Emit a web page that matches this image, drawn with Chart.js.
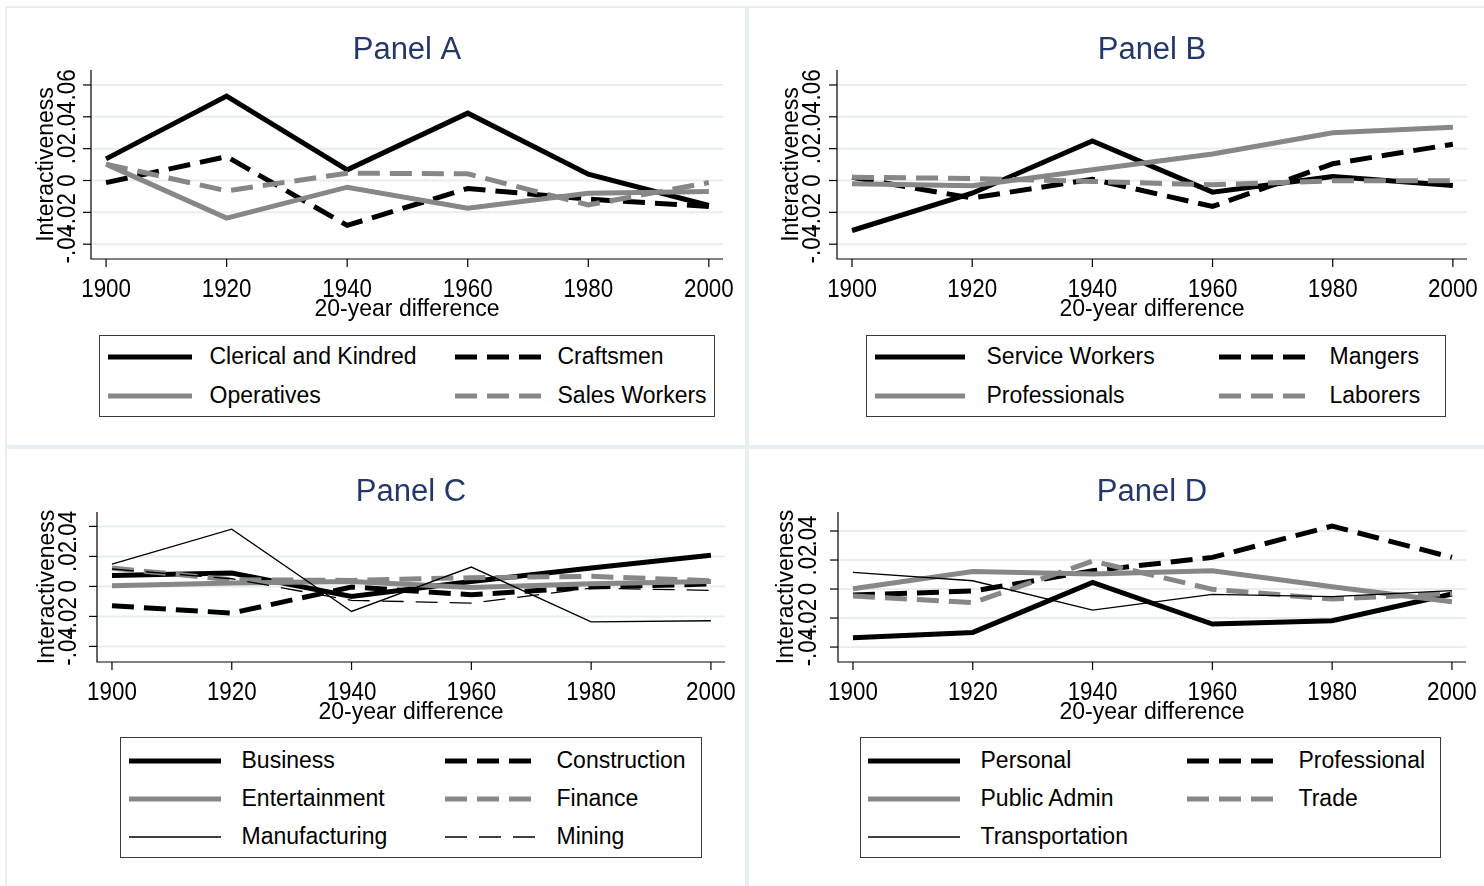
<!DOCTYPE html>
<html>
<head>
<meta charset="utf-8">
<script src="https://cdn.jsdelivr.net/npm/chart.js@4.4.1/dist/chart.umd.min.js"></script>
<style>
  body { margin: 0; background: #fff; }
  #page { position: relative; width: 1484px; height: 886px; overflow: hidden; font-family: "Liberation Sans", Arial, sans-serif; }
  .cell { position: absolute; border: 2px solid #e8eff0; box-sizing: border-box; }
  canvas { position: absolute; }
  .legend { position: absolute; border: 1.5px solid #3a3a3a; box-sizing: border-box; background: #fff; }
  .legend svg { position: absolute; overflow: visible; }
  .legend span { position: absolute; font-size: 23px; line-height: 23px; color: #000; white-space: nowrap; }
</style>
</head>
<body>
<div id="page"></div>
<script>
// x axis
const years = [1900, 1920, 1940, 1960, 1980, 2000];
const xTickLabels = ['1900', '1920', '1940', '1960', '1980', '2000'];

// y axis ticks
const yTicksAB = [-0.04, -0.02, 0, 0.02, 0.04, 0.06];
const yLabelsAB = ['-.04', '-.02', '0', '.02', '.04', '.06'];
const yTicksCD = [-0.04, -0.02, 0, 0.02, 0.04];
const yLabelsCD = ['-.04', '-.02', '0', '.02', '.04'];

// Panel A
const clerical     = [0.0136, 0.0530, 0.0067, 0.0423, 0.0040, -0.0157];
const craftsmen    = [-0.0013, 0.0150, -0.0282, -0.0050, -0.0117, -0.0163];
const operatives   = [0.0103, -0.0236, -0.0042, -0.0174, -0.0080, -0.0069];
const salesWorkers = [0.0103, -0.0065, 0.0046, 0.0042, -0.0153, -0.0013];

// Panel B
const serviceWorkers = [-0.0314, -0.0080, 0.0249, -0.0073, 0.0025, -0.0031];
const mangers        = [0.0020, -0.0110, 0.0008, -0.0163, 0.0105, 0.0228];
const professionals  = [-0.0020, -0.0033, 0.0067, 0.0167, 0.0300, 0.0335];
const laborers       = [0.0020, 0.0013, -0.0006, -0.0027, -0.0002, -0.0002];

// Panel C
const business      = [0.0073, 0.0089, -0.0067, 0.0033, 0.0122, 0.0207];
const construction  = [-0.0129, -0.0178, -0.0004, -0.0056, -0.0004, 0.0016];
const entertainment = [0.0004, 0.0022, 0.0033, -0.0007, 0.0018, 0.0033];
const finance       = [0.0122, 0.0044, 0.0040, 0.0058, 0.0067, 0.0038];
const manufacturing = [0.0149, 0.0382, -0.0167, 0.0129, -0.0236, -0.0229];
const mining        = [0.0116, 0.0051, -0.0093, -0.0111, -0.0011, -0.0027];

// Panel D
const personal       = [-0.0336, -0.0299, 0.0046, -0.0241, -0.0218, -0.0034];
const professional   = [-0.0041, -0.0014, 0.0126, 0.0218, 0.0434, 0.0218];
const publicAdmin    = [0.0002, 0.0120, 0.0103, 0.0126, 0.0016, -0.0087];
const trade          = [-0.0048, -0.0094, 0.0193, -0.0002, -0.0069, -0.0030];
const transportation = [0.0115, 0.0057, -0.0145, -0.0037, -0.0053, -0.0011];

// styles
const BLACK = '#000000', GRAY = '#878787', GRID = '#e6eef0', TITLE = '#24376a';
const THICK = 5, THIN = 1.3;
const DASH = [22, 10], THIN_DASH = [22, 12];
const FONT = '"Liberation Sans", Arial, sans-serif';
const TICK_FONT = '26px ' + FONT, TICK_SQUEEZE = 0.86;

const panels = [
  {
    title: 'Panel A', cell: [5, 6, 742, 441], canvas: [5, 6, 742, 324],
    area: { left: 91, right: 723, top: 70, bottom: 259 },
    yMin: -0.0493, yMax: 0.0694, yTicks: yTicksAB, yLabels: yLabelsAB,
    yLabelX: 75, yTitleX: 53,
    legend: { box: [99, 335, 616, 82], rows: [357, 396], cols: [[108, 84, 210], [455, 86, 558]] },
    series: [
      ['Clerical and Kindred', clerical, BLACK, THICK, []],
      ['Craftsmen', craftsmen, BLACK, THICK, DASH],
      ['Operatives', operatives, GRAY, THICK, []],
      ['Sales Workers', salesWorkers, GRAY, THICK, DASH]
    ]
  },
  {
    title: 'Panel B', cell: [747, 6, 742, 441], canvas: [747, 6, 737, 324],
    area: { left: 837, right: 1467, top: 70, bottom: 259 },
    yMin: -0.0493, yMax: 0.0694, yTicks: yTicksAB, yLabels: yLabelsAB,
    yLabelX: 820, yTitleX: 798,
    legend: { box: [866, 335, 580, 82], rows: [357, 396], cols: [[875, 90, 987], [1219, 90, 1330]] },
    series: [
      ['Service Workers', serviceWorkers, BLACK, THICK, []],
      ['Mangers', mangers, BLACK, THICK, DASH],
      ['Professionals', professionals, GRAY, THICK, []],
      ['Laborers', laborers, GRAY, THICK, DASH]
    ]
  },
  {
    title: 'Panel C', cell: [5, 447, 742, 441], canvas: [5, 447, 742, 286],
    area: { left: 97, right: 725, top: 512, bottom: 662 },
    yMin: -0.0504, yMax: 0.0496, yTicks: yTicksCD, yLabels: yLabelsCD,
    yLabelX: 76, yTitleX: 54,
    legend: { box: [120, 737, 582, 121], rows: [761, 799, 837], cols: [[129, 92, 242], [445, 91, 557]] },
    series: [
      ['Business', business, BLACK, THICK, []],
      ['Construction', construction, BLACK, THICK, DASH],
      ['Entertainment', entertainment, GRAY, THICK, []],
      ['Finance', finance, GRAY, THICK, DASH],
      ['Manufacturing', manufacturing, BLACK, THIN, []],
      ['Mining', mining, BLACK, THIN, THIN_DASH]
    ]
  },
  {
    title: 'Panel D', cell: [747, 447, 742, 441], canvas: [747, 447, 737, 286],
    area: { left: 838, right: 1466, top: 512, bottom: 662 },
    yMin: -0.0503, yMax: 0.0531, yTicks: yTicksCD, yLabels: yLabelsCD,
    yLabelX: 816, yTitleX: 793,
    legend: { box: [860, 737, 581, 121], rows: [761, 799, 837], cols: [[868, 92, 981], [1187, 93, 1299]] },
    series: [
      ['Personal', personal, BLACK, THICK, []],
      ['Professional', professional, BLACK, THICK, DASH],
      ['Public Admin', publicAdmin, GRAY, THICK, []],
      ['Trade', trade, GRAY, THICK, DASH],
      ['Transportation', transportation, BLACK, THIN, []]
    ]
  }
];

const page = document.getElementById('page');

// squeezed tick text, like the narrow Stata tick labels
function tickText(ctx, txt, x, y, rot) {
  ctx.save();
  ctx.translate(x, y);
  if (rot) ctx.rotate(rot);
  ctx.scale(TICK_SQUEEZE, 1);
  ctx.fillText(txt, 0, 0);
  ctx.restore();
}

function makeAxesPlugin(p) {
  const ox = p.canvas[0];
  return {
    id: 'stataAxes',
    beforeDatasetsDraw(chart) {
      const { ctx, chartArea: a, scales: { y } } = chart;
      ctx.save();
      ctx.strokeStyle = GRID;
      ctx.lineWidth = 2;
      p.yTicks.forEach(v => {
        const py = y.getPixelForValue(v);
        ctx.beginPath(); ctx.moveTo(a.left, py); ctx.lineTo(a.right, py); ctx.stroke();
      });
      ctx.restore();
    },
    afterDatasetsDraw(chart) {
      const { ctx, chartArea: a, scales: { x, y } } = chart;
      ctx.save();
      ctx.strokeStyle = '#000'; ctx.lineWidth = 1.2;
      ctx.beginPath();
      ctx.moveTo(a.left, a.top); ctx.lineTo(a.left, a.bottom); ctx.lineTo(a.right, a.bottom);
      ctx.stroke();

      ctx.fillStyle = '#000';
      ctx.textAlign = 'center'; ctx.textBaseline = 'alphabetic';
      ctx.font = TICK_FONT;
      years.forEach((yr, i) => {
        const px = x.getPixelForValue(yr);
        ctx.beginPath(); ctx.moveTo(px, a.bottom); ctx.lineTo(px, a.bottom + 8); ctx.stroke();
        tickText(ctx, xTickLabels[i], px, a.bottom + 38, 0);
      });
      p.yTicks.forEach((v, i) => {
        const py = y.getPixelForValue(v);
        ctx.beginPath(); ctx.moveTo(a.left - 8, py); ctx.lineTo(a.left, py); ctx.stroke();
        tickText(ctx, p.yLabels[i], p.yLabelX - ox, py, -Math.PI / 2);
      });

      ctx.font = '23px ' + FONT;
      ctx.fillText('20-year difference', (a.left + a.right) / 2, a.bottom + 57);
      ctx.save();
      ctx.translate(p.yTitleX - ox, (a.top + a.bottom) / 2);
      ctx.rotate(-Math.PI / 2);
      ctx.fillText('Interactiveness', 0, 0);
      ctx.restore();

      ctx.fillStyle = TITLE;
      ctx.font = '31px ' + FONT;
      ctx.fillText(p.title, (a.left + a.right) / 2, a.top - 11);
      ctx.restore();
    }
  };
}

panels.forEach(p => {
  const cell = document.createElement('div');
  cell.className = 'cell';
  Object.assign(cell.style, { left: p.cell[0] + 'px', top: p.cell[1] + 'px', width: p.cell[2] + 'px', height: p.cell[3] + 'px' });
  page.appendChild(cell);

  const [cl, ct, cw, ch] = p.canvas;
  const cv = document.createElement('canvas');
  cv.width = cw; cv.height = ch;
  Object.assign(cv.style, { left: cl + 'px', top: ct + 'px', width: cw + 'px', height: ch + 'px' });
  page.appendChild(cv);

  const chart = new Chart(cv, {
    type: 'line',
    data: {
      datasets: p.series.map(([label, vals, color, width, dash], i) => ({
        label: label,
        data: years.map((yr, j) => ({ x: yr, y: vals[j] })),
        borderColor: color,
        backgroundColor: color,
        borderWidth: width,
        borderDash: dash,
        pointRadius: 0,
        tension: 0,
        fill: false,
        order: -i
      }))
    },
    options: {
      responsive: false,
      animation: false,
      layout: {
        padding: {
          left: p.area.left - cl,
          top: p.area.top - ct,
          right: cl + cw - p.area.right,
          bottom: ct + ch - p.area.bottom
        }
      },
      plugins: { legend: { display: false }, tooltip: { enabled: false }, title: { display: false } },
      events: [],
      scales: {
        x: { type: 'linear', min: 1897.5, max: 2002.35, display: false },
        y: { type: 'linear', min: p.yMin, max: p.yMax, display: false }
      }
    },
    plugins: [makeAxesPlugin(p)]
  });

  // legend box built from the chart's datasets
  const lg = p.legend;
  const box = document.createElement('div');
  box.className = 'legend';
  Object.assign(box.style, { left: lg.box[0] + 'px', top: lg.box[1] + 'px', width: lg.box[2] + 'px', height: lg.box[3] + 'px' });
  const bx = lg.box[0] + 1.5, by = lg.box[1] + 1.5;
  chart.data.datasets.forEach((ds, i) => {
    const [sx, sw, tx] = lg.cols[i % 2];
    const ry = lg.rows[Math.floor(i / 2)];
    const svg = document.createElementNS('http://www.w3.org/2000/svg', 'svg');
    svg.setAttribute('width', sw); svg.setAttribute('height', 10);
    svg.style.left = (sx - bx) + 'px';
    svg.style.top = (ry - 5 - by) + 'px';
    const ln = document.createElementNS('http://www.w3.org/2000/svg', 'line');
    ln.setAttribute('x1', 0); ln.setAttribute('y1', 5);
    ln.setAttribute('x2', sw); ln.setAttribute('y2', 5);
    ln.setAttribute('stroke', ds.borderColor);
    ln.setAttribute('stroke-width', ds.borderWidth);
    if (ds.borderDash.length) ln.setAttribute('stroke-dasharray', ds.borderDash.join(' '));
    svg.appendChild(ln);
    box.appendChild(svg);
    const sp = document.createElement('span');
    sp.textContent = ds.label;
    sp.style.left = (tx - bx) + 'px';
    sp.style.top = (ry - 12 - by) + 'px';
    box.appendChild(sp);
  });
  page.appendChild(box);
});
</script>
</body>
</html>
